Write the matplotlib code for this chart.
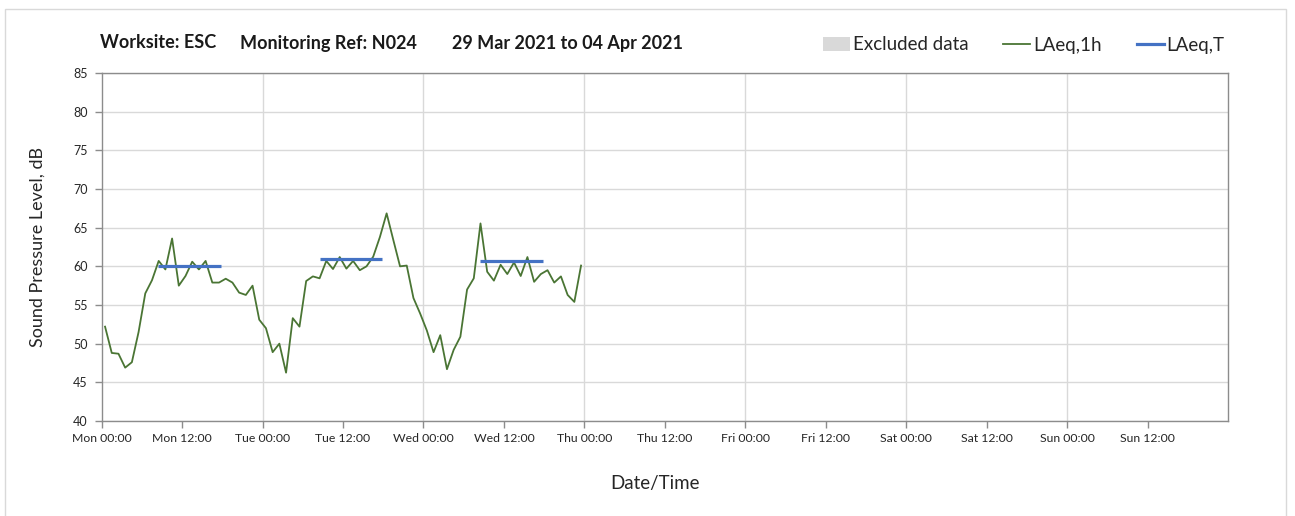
import matplotlib
matplotlib.use("Agg")
import matplotlib.pyplot as plt
from matplotlib.patches import Rectangle
from matplotlib.lines import Line2D
from matplotlib.patches import Patch

plt.rcParams['font.family'] = ['Lato', 'DejaVu Sans']

# Hourly LAeq,1h values starting Mon 00:30 (hours from Mon 00:00)
laeq_1h = [52.2, 48.8, 48.7, 46.9, 47.6, 51.5, 56.5, 58.2, 60.7, 59.6,
           63.6, 57.5, 58.75, 60.6, 59.6, 60.7, 57.9, 57.9, 58.4, 57.9,
           56.6, 56.3, 57.5, 53.1, 52.0, 48.9, 50.0, 46.25, 53.3, 52.2,
           58.1, 58.7, 58.45, 60.7, 59.65, 61.2, 59.7, 60.7, 59.5, 60.0,
           61.25, 63.8, 66.85, 63.4, 60.0, 60.1, 55.9, 53.9, 51.7, 48.9,
           51.1, 46.7, 49.2, 50.9, 57.0, 58.45, 65.55, 59.3, 58.15, 60.2,
           59.0, 60.5, 58.75, 61.2, 58.0, 59.0, 59.5, 57.9, 58.7, 56.3,
           55.4, 60.1]
hours = [0.5 + i for i in range(len(laeq_1h))]

# LAeq,T daytime periods (hours from Mon 00:00)
laeqT_start = [8.4, 32.5, 56.5]
laeqT_end = [17.75, 41.8, 65.8]
laeqT_value = [60.1, 60.9, 60.65]

tick_hours = list(range(0, 168, 12))
tick_labels = ["Mon 00:00", "Mon 12:00", "Tue 00:00", "Tue 12:00", "Wed 00:00",
               "Wed 12:00", "Thu 00:00", "Thu 12:00", "Fri 00:00", "Fri 12:00",
               "Sat 00:00", "Sat 12:00", "Sun 00:00", "Sun 12:00"]
y_ticks = list(range(40, 90, 5))

title_parts = ["Worksite: ESC", "Monitoring Ref: N024", "29 Mar 2021 to 04 Apr 2021"]
title_x = [100, 240, 452]

green = '#4a7534'
blue = '#4472C4'
grid_c = '#d9d9d9'
spine_c = '#8c8c8c'
text_c = '#262626'

fig = plt.figure(figsize=(12.95, 5.16), dpi=100)
ax = fig.add_axes([101.7/1295, 1-421/516, (1228-101.7)/1295, (421-73)/516])

# outer chart border
fig.patches.append(Rectangle((5/1295, -0.05), (1286-5)/1295, 1-9/516+0.05,
                             transform=fig.transFigure, fill=False,
                             edgecolor='#d9d9d9', linewidth=1.0))

for y in y_ticks:
    ax.axhline(y, color=grid_c, linewidth=1.0, zorder=0)
for x in range(24, 168, 24):
    ax.axvline(x, color=grid_c, linewidth=1.0, zorder=0)

ax.plot(hours, laeq_1h, color=green, linewidth=1.3, zorder=3)
for s, e, v in zip(laeqT_start, laeqT_end, laeqT_value):
    ax.plot([s, e], [v, v], color=blue, linewidth=2.3, zorder=4,
            solid_capstyle='butt')

ax.set_xlim(0, 168)
ax.set_ylim(40, 85)
ax.set_xticks(tick_hours)
ax.set_xticklabels(tick_labels, fontsize=8.8, color=text_c)
ax.set_yticks(y_ticks)
ax.set_yticklabels([str(v) for v in y_ticks], fontsize=9, color=text_c)
ax.tick_params(axis='both', direction='out', length=5, color=spine_c, width=1)
ax.tick_params(axis='x', pad=4)
ax.tick_params(axis='y', pad=5)
for sp in ax.spines.values():
    sp.set_color(spine_c)
    sp.set_linewidth(1.0)

ax.set_ylabel("Sound Pressure Level, dB", fontsize=13, color=text_c)
ax.yaxis.set_label_coords((37.5-101.7)/1126.3, 0.5)
ax.set_xlabel("Date/Time", fontsize=13.5, color=text_c)
ax.xaxis.set_label_coords((655.5-101.7)/1126.3, -(483-421)/348)
ax.xaxis.label.set_va('center')
ax.yaxis.label.set_va('center')

for t, x in zip(title_parts, title_x):
    fig.text(x/1295, 1-43/516, t, fontsize=13.0, fontweight='bold',
             color='#1a1a1a', ha='left', va='center')

handles = [Patch(facecolor='#d9d9d9', edgecolor='none'),
           Line2D([0], [0], color=green, linewidth=1.3),
           Line2D([0], [0], color=blue, linewidth=2.3)]
fig.legend(handles, ["Excluded data", "LAeq,1h", "LAeq,T"], ncol=3,
           loc='center right', bbox_to_anchor=(1232/1295, 1-45/516),
           frameon=False, fontsize=13.5, handlelength=1.45, handletextpad=0.15,
           columnspacing=1.85, labelcolor=text_c, borderaxespad=0)

fig.savefig("out.png", dpi=100)
